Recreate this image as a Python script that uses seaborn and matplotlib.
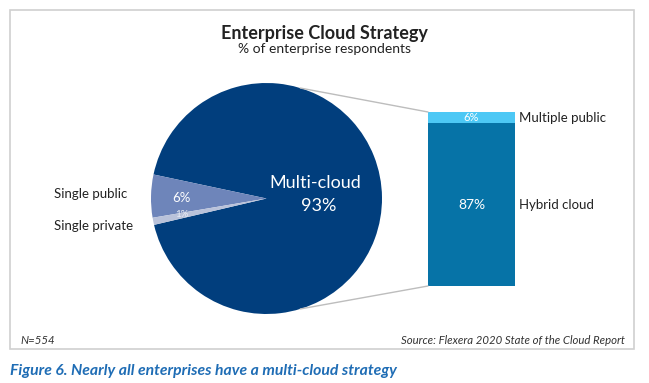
"""
Enterprise cloud strategy chart: pie of strategies with a bar
breaking the multi-cloud slice into hybrid / multiple public.
"""

import numpy as np
import matplotlib.pyplot as plt
import pandas as pd
import seaborn as sns
from matplotlib.patches import ConnectionPatch, Rectangle


# -----------------------------
# Data
# -----------------------------

pie_labels = ["Multi-cloud", "Single public", "Single private"]
pie_values = [93, 6, 1]

bar_labels = ["Hybrid cloud", "Multiple public"]
bar_values = [87, 6]


# -----------------------------
# Style
# -----------------------------

sns.set_style("white")
plt.rcParams["font.family"] = ["Lato", "DejaVu Sans"]

MULTI = "#013E7D"
SINGLE_PUBLIC = "#6E85BA"
SINGLE_PRIVATE = "#B9C2DA"
HYBRID = "#0673A7"
MULTI_PUBLIC = "#4DC8F5"
TEXT_DARK = "#222222"
CAPTION_BLUE = "#1F6DB5"
LINE_GREY = "#BDBDBD"

W, H = 649, 383


def px_box(x0, y0, x1, y1):
    # pixel box (top-left origin) -> figure fraction [left, bottom, width, height]
    return [x0 / W, 1 - y1 / H, (x1 - x0) / W, (y1 - y0) / H]


fig = plt.figure(figsize=(W / 100, H / 100), dpi=100, facecolor="white")

# outer frame
fig.patches.append(
    Rectangle(
        (10 / W, 1 - 349 / H),
        624 / W,
        339 / H,
        transform=fig.transFigure,
        fill=False,
        edgecolor="#D0D0D0",
        linewidth=1.2,
    )
)

fig.text(0.5, 1 - 34 / H, "Enterprise Cloud Strategy", ha="center", va="center",
         fontsize=13, fontweight="bold", color=TEXT_DARK)
fig.text(0.5, 1 - 49 / H, "% of enterprise respondents", ha="center", va="center",
         fontsize=10, color=TEXT_DARK)

# -----------------------------
# Pie
# -----------------------------

cx, cy, r = 266.5, 198.5, 115.5
ax_pie = fig.add_axes(px_box(cx - r, cy - r, cx + r, cy + r))

start = 168 - 360 * pie_values[0] / sum(pie_values)
ax_pie.pie(
    pie_values,
    colors=[MULTI, SINGLE_PUBLIC, SINGLE_PRIVATE],
    startangle=start,
    counterclock=True,
    radius=1,
    wedgeprops={"linewidth": 0},
)
ax_pie.set_xlim(-1, 1)
ax_pie.set_ylim(-1, 1)
ax_pie.set_aspect("equal")
ax_pie.axis("off")

ax_pie.text(0.42, 0.135, pie_labels[0], color="white", fontsize=13,
            ha="center", va="center")
ax_pie.text(0.45, -0.065, f"{pie_values[0]}%", color="white", fontsize=13,
            ha="center", va="center")
ax_pie.text(-0.74, 0.0, f"{pie_values[1]}%", color="white", fontsize=9.5,
            ha="center", va="center")
ax_pie.text(-0.73, -0.135, f"{pie_values[2]}%", color="#E8ECF5", fontsize=7,
            ha="center", va="center")
ax_pie.text(-1.84, 0.04, pie_labels[1], color=TEXT_DARK, fontsize=9.5,
            ha="left", va="center", clip_on=False)
ax_pie.text(-1.84, -0.24, pie_labels[2], color=TEXT_DARK, fontsize=9.5,
            ha="left", va="center", clip_on=False)

# -----------------------------
# Stacked bar (multi-cloud breakdown)
# -----------------------------

ax_bar = fig.add_axes(px_box(428, 112, 515, 286))

bar_df = pd.DataFrame({
    "group": ["Multi-cloud"],
    "total": [sum(bar_values)],
    "hybrid": [bar_values[0]],
})

sns.barplot(data=bar_df, x="group", y="total", color=MULTI_PUBLIC,
            width=1.0, saturation=1, ax=ax_bar, linewidth=0)
sns.barplot(data=bar_df, x="group", y="hybrid", color=HYBRID,
            width=1.0, saturation=1, ax=ax_bar, linewidth=0)

ax_bar.set_xlim(-0.5, 0.5)
ax_bar.set_ylim(0, sum(bar_values))
ax_bar.axis("off")

ax_bar.text(0, bar_values[0] + bar_values[1] / 2, f"{bar_values[1]}%",
            color="white", fontsize=8, ha="center", va="center")
ax_bar.text(0, bar_values[0] / 2, f"{bar_values[0]}%",
            color="white", fontsize=10, ha="center", va="center")
ax_bar.text(0.55, bar_values[0] + bar_values[1] / 2, bar_labels[1],
            color=TEXT_DARK, fontsize=9.5, ha="left", va="center", clip_on=False)
ax_bar.text(0.55, bar_values[0] / 2, bar_labels[0],
            color=TEXT_DARK, fontsize=9.5, ha="left", va="center", clip_on=False)

# connector lines from pie to bar
ang = np.deg2rad(73)
for sign, ytarget in [(1, sum(bar_values)), (-1, 0)]:
    con = ConnectionPatch(
        xyA=(np.cos(ang), sign * np.sin(ang)),
        coordsA=ax_pie.transData,
        xyB=(-0.5, ytarget),
        coordsB=ax_bar.transData,
        color=LINE_GREY,
        linewidth=1,
    )
    fig.add_artist(con)

# -----------------------------
# Footer
# -----------------------------

fig.text(20 / W, 1 - 340 / H, "N=554", fontsize=8.2, style="italic",
         color="#333333", ha="left", va="center")
fig.text(625 / W, 1 - 340 / H, "Source: Flexera 2020 State of the Cloud Report",
         fontsize=8.2, style="italic", color="#333333", ha="right", va="center")
fig.text(10 / W, 1 - 371 / H,
         "Figure 6. Nearly all enterprises have a multi-cloud strategy",
         fontsize=11.3, style="italic", fontweight="bold", color=CAPTION_BLUE,
         ha="left", va="center")

fig.savefig("out.png", dpi=100, facecolor="white")
plt.close(fig)
